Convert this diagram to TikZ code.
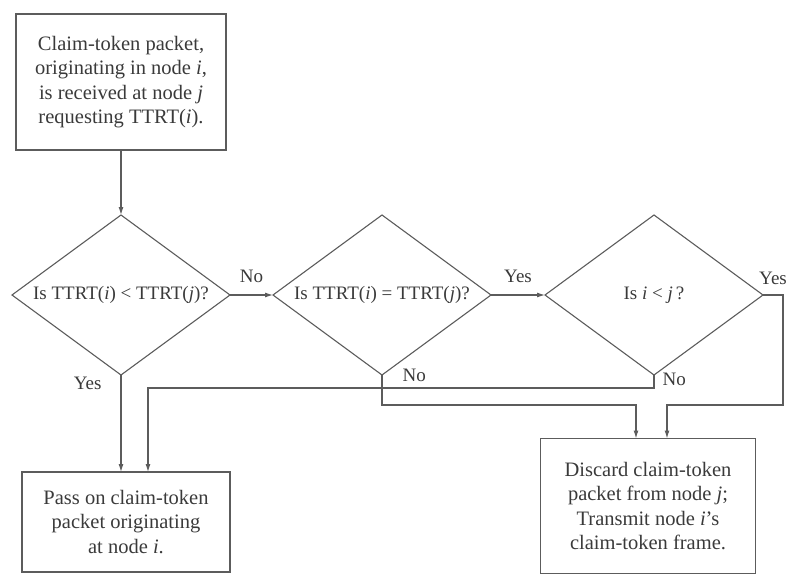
\documentclass[tikz,border=0pt]{standalone}
\usepackage{fontspec}
\setmainfont{Liberation Serif}
\usetikzlibrary{arrows.meta,shapes.geometric,positioning}
\definecolor{linegray}{HTML}{5C5C5C}
\definecolor{textgray}{HTML}{3A3A3A}

\begin{document}
\begin{tikzpicture}[x=1pt,y=-1pt,
	every node/.style={text=textgray, font=\fontsize{20.5}{24.5}\selectfont},
	procbox/.style={draw=linegray, line width=1.1pt, rectangle, align=center, inner sep=0pt, outer sep=0pt},
	decision/.style={draw=linegray, line width=1.1pt, diamond, minimum width=218pt, minimum height=160pt, inner sep=0pt, outer sep=0pt},
	lbl/.style={inner sep=2pt, font=\fontsize{19}{22}\selectfont},
	flow/.style={draw=linegray, line width=1.1pt, -{Latex[length=8pt,width=5pt]}}]
				\useasboundingbox (0,0) rectangle (792,575);
				\node[procbox, minimum width=210pt, minimum height=136pt] (claim) at (121,82)
					{Claim-token packet,\\ originating in node \textit{i},\\ is received at node \textit{j}\\ requesting TTRT(\textit{i}).};
				\node[decision] (d1) at (121,295) {};
				\node[decision] (d2) at (382,295) {};
				\node[decision] (d3) at (654,295) {};
				\node[lbl] (q1) at (d1) {Is TTRT(\textit{i}) < TTRT(\textit{j})?};
				\node[lbl] (q2) at (d2) {Is TTRT(\textit{i}) = TTRT(\textit{j})?};
				\node[lbl] (q3) at (d3) {Is \textit{i} < \textit{j}\,?};
				\node[procbox, minimum width=208pt, minimum height=100pt] (pass) at (126,522)
					{Pass on claim-token\\ packet originating\\ at node \textit{i}.};
				\node[procbox, minimum width=215pt, minimum height=135pt] (discard) at (648,506)
					{Discard claim-token\\ packet from node \textit{j};\\ Transmit node \textit{i}'s\\ claim-token frame.};
				% bends of the connectors
				\coordinate (j1) at (148,388);
				\coordinate (j2) at (636,405);
				\coordinate (j3) at (783,295);
				\coordinate (j4) at (667,405);
				\draw[flow] (claim.south) -- (d1.north);
				\draw[flow] (d1.east) -- (d2.west) node[lbl, midway, above=10pt] {No};
				\draw[flow] (d2.east) -- (d3.west) node[lbl, midway, above=10pt] {Yes};
				\draw[flow] (d1.south) -- (d1.south |- pass.north) node[lbl, pos=0.09, left=17pt] {Yes};
				\draw[flow] (d3.south) |- (j1) node[lbl, pos=0.5, anchor=south west, xshift=6pt] {No} -- (j1 |- pass.north);
				\draw[flow] (d2.south) node[lbl, anchor=west, xshift=18pt] {No} |- (j2) -- (j2 |- discard.north);
				\draw[flow] (d3.east) -- (j3) node[lbl, midway, above=8pt] {Yes} |- (j4) -- (j4 |- discard.north);
			\end{tikzpicture}
\end{document}
